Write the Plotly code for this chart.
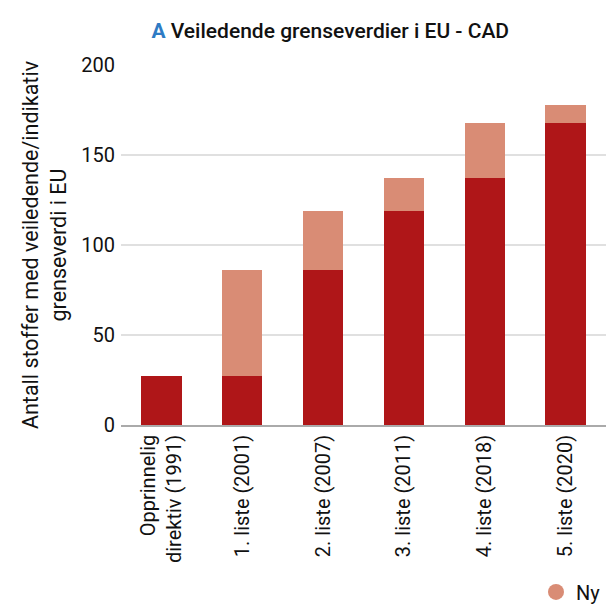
import plotly.graph_objects as go

# Data
kategorier = ['Opprinnelig<br>direktiv (1991)', '1. liste (2001)', '2. liste (2007)',
              '3. liste (2011)', '4. liste (2018)', '5. liste (2020)']
eksisterende = [27, 27, 86, 119, 137, 168]
nye = [0, 59, 33, 18, 31, 10]

mork = '#AF1618'
lys = '#D98C75'

fig = go.Figure()

fig.add_trace(go.Bar(
    x=kategorier,
    y=eksisterende,
    name='Eksisterende',
    marker=dict(color=mork, line=dict(width=0)),
    showlegend=False
))

fig.add_trace(go.Bar(
    x=kategorier,
    y=nye,
    name='Ny',
    marker=dict(color=lys, line=dict(width=0)),
    showlegend=False
))

# egen legendoppføring med sirkel
fig.add_trace(go.Scatter(
    x=[None], y=[None],
    mode='markers',
    name='Ny',
    marker=dict(color=lys, size=20, symbol='circle')
))

fig.update_layout(
    barmode='stack',
    bargap=0.5,
    width=606,
    height=604,
    paper_bgcolor='white',
    plot_bgcolor='white',
    font=dict(family='Roboto', size=16, color='#111'),
    title=dict(
        text='<b><span style="color:#2E7BC4">A</span></b> Veiledende grenseverdier i EU - CAD',
        font=dict(size=21, color='#111', weight=500),
        x=0.545, xanchor='center', xref='container',
        y=0.95, yanchor='middle', yref='container'
    ),
    margin=dict(l=121, r=0, t=65, b=179),
    xaxis=dict(
        tickangle=-90,
        showline=True,
        linecolor='#aaaaaa',
        linewidth=1.5,
        ticks='',
        tickfont=dict(size=20),
        automargin=False
    ),
    yaxis=dict(
        range=[0, 200],
        tickvals=[0, 50, 100, 150, 200],
        gridcolor='#e0e0e0',
        gridwidth=1.5,
        zeroline=False,
        ticks='',
        ticklabelstandoff=5,
        tickfont=dict(size=20),
        automargin=False,
        title=dict(
            text='Antall stoffer med veiledende/indikativ<br>grenseverdi i EU',
            font=dict(size=21.5),
            standoff=8
        )
    ),
    legend=dict(
        orientation='h',
        xref='container', yref='container',
        x=1.0, xanchor='right',
        y=0.02, yanchor='middle',
        font=dict(size=20)
    )
)

fig.write_html("out.html", config={'displayModeBar': False},
               post_script="document.body.style.margin='0';")
